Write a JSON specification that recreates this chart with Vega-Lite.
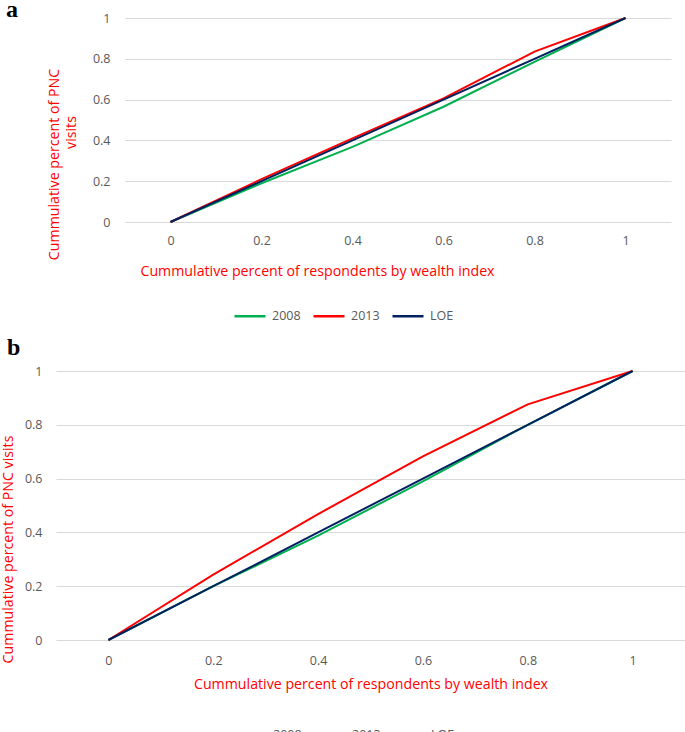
{
  "$schema": "https://vega.github.io/schema/vega-lite/v6.json",
  "padding": {"left": 1, "top": -2, "right": 0, "bottom": 0},
  "background": "white",
  "config": {
    "font": "Open Sans",
    "view": {"stroke": null},
    "axis": {
      "labelFont": "Open Sans", "labelFontSize": 12.5, "labelColor": "#595959",
      "titleFont": "Open Sans", "titleFontSize": 14.2, "titleFontWeight": "normal", "titleColor": "#ff0000",
      "domain": false, "ticks": false, "gridColor": "#d9d9d9", "gridWidth": 1, "gridOpacity": 1
    },
    "legend": {
      "labelFont": "Open Sans", "labelFontSize": 12.5, "labelColor": "#595959",
      "symbolType": "stroke", "symbolSize": 961, "symbolStrokeWidth": 2.5,
      "labelOffset": 5, "columnPadding": 7, "padding": 0
    },
    "title": {"font": "Liberation Serif", "fontSize": 24, "fontWeight": "bold", "color": "#000000", "anchor": "start", "frame": "group", "baseline": "alphabetic"}
  },
  "datasets": {
    "d": [
      {"p": "a", "s": "2008", "x": 0, "y": 0},
      {"p": "a", "s": "2008", "x": 0.2, "y": 0.19},
      {"p": "a", "s": "2008", "x": 0.4, "y": 0.368},
      {"p": "a", "s": "2008", "x": 0.6, "y": 0.565},
      {"p": "a", "s": "2008", "x": 0.8, "y": 0.785},
      {"p": "a", "s": "2008", "x": 1, "y": 1},
      {"p": "a", "s": "2013", "x": 0, "y": 0},
      {"p": "a", "s": "2013", "x": 0.2, "y": 0.21},
      {"p": "a", "s": "2013", "x": 0.4, "y": 0.41},
      {"p": "a", "s": "2013", "x": 0.6, "y": 0.606},
      {"p": "a", "s": "2013", "x": 0.8, "y": 0.835},
      {"p": "a", "s": "2013", "x": 1, "y": 1},
      {"p": "a", "s": "LOE", "x": 0, "y": 0},
      {"p": "a", "s": "LOE", "x": 0.2, "y": 0.2},
      {"p": "a", "s": "LOE", "x": 0.4, "y": 0.4},
      {"p": "a", "s": "LOE", "x": 0.6, "y": 0.6},
      {"p": "a", "s": "LOE", "x": 0.8, "y": 0.8},
      {"p": "a", "s": "LOE", "x": 1, "y": 1},
      {"p": "b", "s": "2008", "x": 0, "y": 0},
      {"p": "b", "s": "2008", "x": 0.2, "y": 0.2},
      {"p": "b", "s": "2008", "x": 0.4, "y": 0.388},
      {"p": "b", "s": "2008", "x": 0.6, "y": 0.59},
      {"p": "b", "s": "2008", "x": 0.8, "y": 0.8},
      {"p": "b", "s": "2008", "x": 1, "y": 1},
      {"p": "b", "s": "2013", "x": 0, "y": 0},
      {"p": "b", "s": "2013", "x": 0.2, "y": 0.243},
      {"p": "b", "s": "2013", "x": 0.4, "y": 0.468},
      {"p": "b", "s": "2013", "x": 0.6, "y": 0.683},
      {"p": "b", "s": "2013", "x": 0.8, "y": 0.876},
      {"p": "b", "s": "2013", "x": 1, "y": 1},
      {"p": "b", "s": "LOE", "x": 0, "y": 0},
      {"p": "b", "s": "LOE", "x": 0.2, "y": 0.2},
      {"p": "b", "s": "LOE", "x": 0.4, "y": 0.4},
      {"p": "b", "s": "LOE", "x": 0.6, "y": 0.6},
      {"p": "b", "s": "LOE", "x": 0.8, "y": 0.8},
      {"p": "b", "s": "LOE", "x": 1, "y": 1}
    ]
  },
  "spacing": 13,
  "resolve": {"scale": {"x": "independent", "y": "independent", "color": "independent"}, "legend": {"color": "independent"}},
  "vconcat": [
    {
      "spacing": 0,
      "bounds": "flush",
      "resolve": {"scale": {"x": "independent", "y": "independent", "color": "independent"}, "legend": {"color": "independent"}},
      "hconcat": [
        {
          "data": {"values": []},
          "width": 69,
          "height": 1,
          "mark": {"type": "point", "opacity": 0},
          "encoding": {}
        },
        {
          "data": {"name": "d"},
          "transform": [{"filter": "datum.p === 'a'"}],
          "title": {"text": "a", "dx": -119, "dy": 10, "offset": 0},
          "width": 546,
          "height": 204,
          "encoding": {
            "x": {
              "field": "x", "type": "quantitative",
              "scale": {"domain": [-0.1, 1.1], "nice": false, "zero": false},
              "axis": {
                "values": [0, 0.2, 0.4, 0.6, 0.8, 1], "format": "~g", "grid": false, "labelPadding": 12,
                "title": "Cummulative percent of respondents by wealth index",
                "titleX": 192, "titleY": 49, "titleBaseline": "middle", "titleAlign": "center"
              }
            }
          },
          "layer": [
            {
              "mark": {"type": "line", "strokeWidth": 2},
              "encoding": {
                "y": {
                  "field": "y", "type": "quantitative",
                  "scale": {"domain": [0, 1], "nice": false},
                  "axis": {
                    "orient": "left",
                    "values": [0, 0.2, 0.4, 0.6, 0.8, 1], "format": "~g", "grid": true, "labelPadding": 15,
                    "title": "Cummulative percent of PNC",
                    "titleAngle": -90, "titleX": -71, "titleY": 146, "titleAlign": "center", "titleBaseline": "middle"
                  }
                },
                "color": {
                  "field": "s", "type": "nominal",
                  "scale": {"domain": ["2008", "2013", "LOE"], "range": ["#00b050", "#ff0000", "#002060"]},
                  "legend": {"orient": "none", "legendX": 108, "legendY": 281, "direction": "horizontal", "title": null}
                }
              }
            },
            {
              "mark": {"type": "line", "opacity": 0},
              "encoding": {
                "y": {
                  "field": "y", "type": "quantitative",
                  "axis": {
                    "orient": "left", "labels": false, "grid": false,
                    "title": "visits",
                    "titleAngle": -90, "titleX": -54, "titleY": 114, "titleAlign": "center", "titleBaseline": "middle"
                  }
                },
                "detail": {"field": "s", "type": "nominal"}
              }
            }
          ],
          "resolve": {"axis": {"y": "independent"}}
        }
      ]
    },
    {
      "data": {"name": "d"},
      "transform": [{"filter": "datum.p === 'b'"}],
      "title": {"text": "b", "dx": -49, "offset": 5},
      "width": 629,
      "height": 269,
      "mark": {"type": "line", "strokeWidth": 2},
      "encoding": {
        "x": {
          "field": "x", "type": "quantitative",
          "scale": {"domain": [-0.1, 1.1], "nice": false, "zero": false},
          "axis": {
            "values": [0, 0.2, 0.4, 0.6, 0.8, 1], "format": "~g", "grid": false, "labelPadding": 14,
            "title": "Cummulative percent of respondents by wealth index",
            "titleY": 44, "titleBaseline": "middle"
          }
        },
        "y": {
          "field": "y", "type": "quantitative",
          "scale": {"domain": [0, 1], "nice": false},
          "axis": {
            "values": [0, 0.2, 0.4, 0.6, 0.8, 1], "format": "~g", "grid": true, "labelPadding": 14,
            "title": "Cummulative percent of PNC visits",
            "titleAngle": -90, "titleX": -47.6, "titleY": 178, "titleAlign": "center", "titleBaseline": "middle"
          }
        },
        "color": {
          "field": "s", "type": "nominal",
          "scale": {"domain": ["2008", "2013", "LOE"], "range": ["#00b050", "#ff0000", "#002060"]},
          "legend": {"orient": "none", "legendX": 178, "legendY": 347, "direction": "horizontal", "title": null}
        }
      }
    }
  ]
}
